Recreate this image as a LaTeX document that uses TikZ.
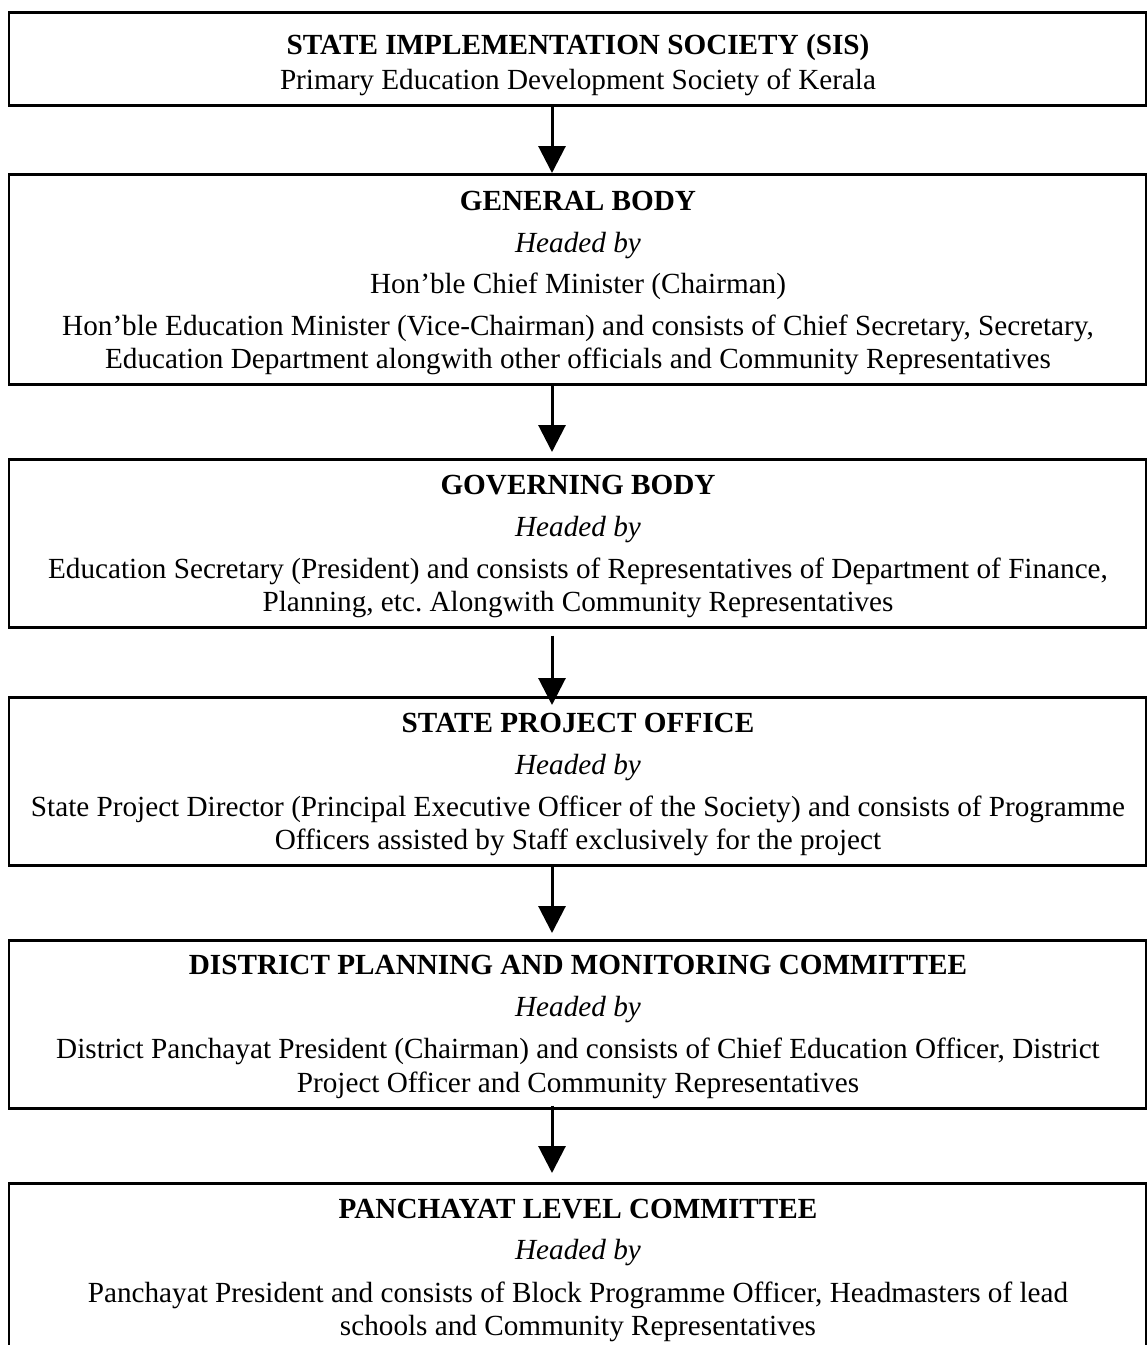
\documentclass[tikz,border=0pt]{standalone}
\usepackage{fontspec}
\setmainfont{Liberation Serif}
\usetikzlibrary{arrows.meta}
\frenchspacing
\begin{document}
\begin{tikzpicture}[x=0.5pt,y=-0.5pt,
  box/.style={draw, line width=1.25pt, minimum width=568.5pt, anchor=north, inner sep=0pt},
  txt/.style={anchor=base, inner sep=0pt, font=\fontsize{14.6pt}{16.5pt}\selectfont},
  arr/.style={line width=1.5pt, -{Triangle[length=13.5pt,width=13.5pt]}}]
\useasboundingbox (0,0) rectangle (1147,1345);
% boxes
\node[box, minimum height=46.5pt] (b1) at (577.5,11) {};
\node[box, minimum height=105pt] (b2) at (577.5,173) {};
\node[box, minimum height=84pt] (b3) at (577.5,458) {};
\node[box, minimum height=84pt] (b4) at (577.5,696) {};
\node[box, minimum height=84pt] (b5) at (577.5,939) {};
\node[box, minimum height=109pt] (b6) at (577.5,1182) {};
% box 1
\node[txt] (t1a) at (578,54) {\textbf{STATE IMPLEMENTATION SOCIETY (SIS)}};
\node[txt] (t1b) at (578,89) {Primary Education Development Society of Kerala};
% box 2
\node[txt] (t2a) at (578,210) {\textbf{GENERAL BODY}};
\node[txt] (t2b) at (578,252) {\textit{Headed by}};
\node[txt] (t2c) at (578,293) {Hon’ble Chief Minister (Chairman)};
\node[txt] (t2d) at (578,335) {Hon’ble Education Minister (Vice-Chairman) and consists of Chief Secretary, Secretary,};
\node[txt] (t2e) at (578,368) {Education Department alongwith other officials and Community Representatives};
% box 3
\node[txt] (t3a) at (578,494) {\textbf{GOVERNING BODY}};
\node[txt] (t3b) at (578,536) {\textit{Headed by}};
\node[txt] (t3c) at (578,578) {Education Secretary (President) and consists of Representatives of Department of Finance,};
\node[txt] (t3d) at (578,611) {Planning, etc. Alongwith Community Representatives};
% box 4
\node[txt] (t4a) at (578,732) {\textbf{STATE PROJECT OFFICE}};
\node[txt] (t4b) at (578,774) {\textit{Headed by}};
\node[txt] (t4c) at (578,816) {State Project Director (Principal Executive Officer of the Society) and consists of Programme};
\node[txt] (t4d) at (578,849) {Officers assisted by Staff exclusively for the project};
% box 5
\node[txt] (t5a) at (578,974) {\textbf{DISTRICT PLANNING AND MONITORING COMMITTEE}};
\node[txt] (t5b) at (578,1016) {\textit{Headed by}};
\node[txt] (t5c) at (578,1058) {District Panchayat President (Chairman) and consists of Chief Education Officer, District};
\node[txt] (t5d) at (578,1092) {Project Officer and Community Representatives};
% box 6
\node[txt] (t6a) at (578,1218) {\textbf{PANCHAYAT LEVEL COMMITTEE}};
\node[txt] (t6b) at (578,1259) {\textit{Headed by}};
\node[txt] (t6c) at (578,1302) {Panchayat President and consists of Block Programme Officer, Headmasters of lead};
\node[txt] (t6d) at (578,1335) {schools and Community Representatives};
% arrows
\draw[arr] ([xshift=-12.75pt]b1.south) -- ([xshift=-12.75pt]b2.north);
\draw[arr, shorten >=3pt] ([xshift=-12.75pt]b2.south) -- ([xshift=-12.75pt]b3.north);
\draw[arr, shorten <=3.5pt] ([xshift=-12.75pt]b3.south) -- ([xshift=-12.75pt,yshift=-4.5pt]b4.north);
\draw[arr, shorten >=3pt] ([xshift=-12.75pt]b4.south) -- ([xshift=-12.75pt]b5.north);
\draw[arr, shorten >=4.5pt] ([xshift=-12.75pt,yshift=2pt]b5.south) -- ([xshift=-12.75pt]b6.north);
\end{tikzpicture}
\end{document}
